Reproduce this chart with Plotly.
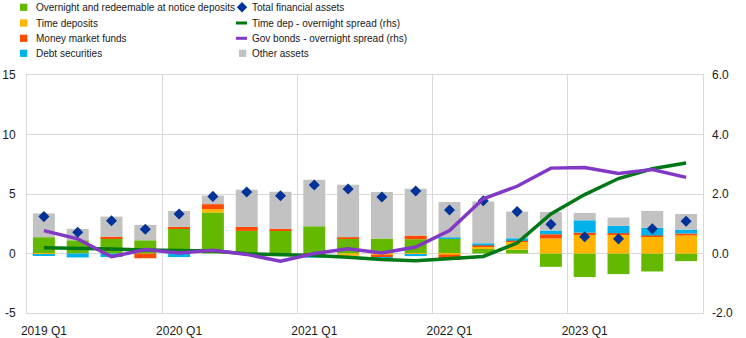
import plotly.graph_objects as go

quarters = ["2019 Q1", "2019 Q2", "2019 Q3", "2019 Q4",
            "2020 Q1", "2020 Q2", "2020 Q3", "2020 Q4",
            "2021 Q1", "2021 Q2", "2021 Q3", "2021 Q4",
            "2022 Q1", "2022 Q2", "2022 Q3", "2022 Q4",
            "2023 Q1", "2023 Q2", "2023 Q3", "2023 Q4"]

overnight = [1.37, 1.11, 1.26, 1.11, 2.12, 3.45, 1.90, 1.95, 2.29, 1.26,
             1.26, 1.20, 1.23, 0.45, 0.33, -1.12, -1.98, -1.73, -1.51, -0.64]
time_deposits = [-0.06, 0.00, 0.00, 0.00, 0.00, 0.28, 0.00, 0.00, 0.00, -0.20,
                 -0.12, -0.12, -0.10, 0.10, 0.70, 1.26, 1.55, 1.59, 1.42, 1.51]
money_market = [0.00, 0.00, 0.16, -0.40, 0.12, 0.42, 0.34, 0.14, -0.15, 0.11,
                -0.18, 0.31, -0.45, 0.13, 0.04, 0.36, 0.20, 0.11, 0.09, 0.17]
debt_securities = [-0.15, -0.33, -0.30, 0.00, -0.30, 0.00, 0.00, 0.00, -0.20, 0.00,
                   -0.05, -0.10, 0.11, 0.18, 0.21, 0.31, 1.04, 0.62, 0.64, 0.33]
other_assets = [2.00, 0.96, 1.68, 1.29, 1.33, 0.71, 3.12, 3.10, 3.91, 4.41,
                3.91, 3.93, 2.99, 3.52, 2.24, 1.56, 0.62, 0.70, 1.43, 1.31]
total_assets = [3.10, 1.78, 2.76, 2.04, 3.32, 4.80, 5.17, 4.86, 5.75, 5.42,
                4.75, 5.25, 3.66, 4.44, 3.52, 2.45, 1.40, 1.23, 2.07, 2.71]
time_dep_spread = [0.19, 0.18, 0.15, 0.12, 0.10, 0.08, -0.01, -0.04, -0.07, -0.13,
                   -0.20, -0.24, -0.18, -0.10, 0.35, 1.33, 1.98, 2.52, 2.85, 3.04]
gov_bond_spread = [0.77, 0.49, -0.11, 0.13, 0.02, 0.11, -0.03, -0.26, 0.00, 0.16,
                   0.02, 0.22, 0.77, 1.84, 2.26, 2.87, 2.89, 2.69, 2.82, 2.56]

year_ticks = ["2019 Q1", "2020 Q1", "2021 Q1", "2022 Q1", "2023 Q1"]
left_ticks = [-5, 0, 5, 10, 15]
right_ticks = [-2, 0, 2, 4, 6]

GREEN = "#64B800"
YELLOW = "#FFB400"
ORANGE = "#FF4B00"
BLUE = "#00B1EA"
GRAY = "#C2C2C2"
NAVY = "#003299"
DKGREEN = "#007816"
PURPLE = "#8139C6"

x = list(range(len(quarters)))

fig = go.Figure()
bar_series = [
    ("Overnight and redeemable at notice deposits", overnight, GREEN),
    ("Time deposits", time_deposits, YELLOW),
    ("Money market funds", money_market, ORANGE),
    ("Debt securities", debt_securities, BLUE),
    ("Other assets", other_assets, GRAY),
]
for name, vals, col in bar_series:
    fig.add_trace(go.Bar(x=x, y=vals, name=name, marker=dict(color=col, line=dict(width=0)),
                         showlegend=False, hovertext=quarters))

fig.add_trace(go.Scatter(x=x, y=total_assets, mode="markers", name="Total financial assets",
                         marker=dict(symbol="diamond", size=8.5, color=NAVY), showlegend=False))
fig.add_trace(go.Scatter(x=x, y=time_dep_spread, mode="lines", name="Time dep - overnight spread (rhs)",
                         line=dict(color=DKGREEN, width=3.5), yaxis="y2", showlegend=False))
fig.add_trace(go.Scatter(x=x, y=gov_bond_spread, mode="lines", name="Gov bonds - overnight spread (rhs)",
                         line=dict(color=PURPLE, width=3.5), yaxis="y2", showlegend=False))

W, H = 746, 338
L, R, T, B = 27, 43, 75, 25
PW, PH = W - L - R, H - T - B


def px(xp):
    return (xp - L) / PW


def py(yp):
    return (H - B - yp) / PH


LEG_FONT = dict(family="Liberation Sans, Arial", size=10, color="#1a1a1a")
rows = [7.3, 23.0, 38.3, 53.3]
col1 = [("Overnight and redeemable at notice deposits", GREEN),
        ("Time deposits", YELLOW),
        ("Money market funds", ORANGE),
        ("Debt securities", BLUE)]
col2 = [("Total financial assets", "diamond", NAVY),
        ("Time dep - overnight spread (rhs)", "line", DKGREEN),
        ("Gov bonds - overnight spread (rhs)", "line", PURPLE),
        ("Other assets", "square", GRAY)]

shapes = []
annotations = []
for (label, col), ry in zip(col1, rows):
    shapes.append(dict(type="rect", xref="paper", yref="paper", x0=px(20), x1=px(27.3),
                       y0=py(ry + 3.6), y1=py(ry - 3.6), fillcolor=col, line=dict(width=0)))
    annotations.append(dict(xref="paper", yref="paper", x=px(34), y=py(ry), text=label,
                            showarrow=False, xanchor="left", yanchor="middle", font=LEG_FONT))
for (label, kind, col), ry in zip(col2, rows):
    if kind == "diamond":
        cx, r = 242, 5.2
        path = "M {} {} L {} {} L {} {} L {} {} Z".format(
            px(cx - r), py(ry), px(cx), py(ry - r), px(cx + r), py(ry), px(cx), py(ry + r))
        shapes.append(dict(type="path", xref="paper", yref="paper", path=path,
                           fillcolor=col, line=dict(width=0)))
    elif kind == "line":
        shapes.append(dict(type="rect", xref="paper", yref="paper", x0=px(236), x1=px(247),
                           y0=py(ry + 1.5), y1=py(ry - 1.5), fillcolor=col, line=dict(width=0)))
    else:
        shapes.append(dict(type="rect", xref="paper", yref="paper", x0=px(239), x1=px(246.3),
                           y0=py(ry + 3.6), y1=py(ry - 3.6), fillcolor=col, line=dict(width=0)))
    annotations.append(dict(xref="paper", yref="paper", x=px(250), y=py(ry), text=label,
                            showarrow=False, xanchor="left", yanchor="middle", font=LEG_FONT))

TICK_FONT = dict(family="Liberation Sans, Arial", size=12, color="#1a1a1a")
GRID = "#D9D9D9"

fig.update_layout(
    width=W, height=H,
    margin=dict(l=L, r=R, t=T, b=B, pad=0, autoexpand=False),
    paper_bgcolor="white", plot_bgcolor="white",
    barmode="relative", bargap=0.35,
    showlegend=False,
    shapes=shapes, annotations=annotations,
    xaxis=dict(range=[-0.5, len(quarters) - 0.5], automargin=False,
               tickmode="array", tickvals=[quarters.index(q) for q in year_ticks], ticktext=year_ticks,
               showgrid=False, ticks="", tickfont=TICK_FONT, ticklabelstandoff=7,
               showline=True, linecolor=GRID, linewidth=1, mirror=True, zeroline=False,
               minor=dict(tickmode="array", tickvals=[quarters.index(q) - 0.5 for q in year_ticks[1:]],
                          showgrid=True, gridcolor=GRID, gridwidth=1, ticks="")),
    yaxis=dict(range=[-5, 15], automargin=False, tickmode="array", tickvals=left_ticks,
               ticktext=[str(v) for v in left_ticks],
               showgrid=True, gridcolor=GRID, gridwidth=1, zeroline=True, zerolinecolor=GRID,
               zerolinewidth=1, ticks="", tickfont=TICK_FONT, ticklabelstandoff=8,
               showline=True, linecolor=GRID, linewidth=1, mirror=True),
    yaxis2=dict(range=[-2, 6], automargin=False, tickmode="array", tickvals=right_ticks,
                ticktext=["{:.1f}".format(v) for v in right_ticks],
                overlaying="y", side="right", showgrid=False, zeroline=False, ticks="",
                tickfont=TICK_FONT, ticklabelstandoff=8),
)

fig.write_html("out.html")
